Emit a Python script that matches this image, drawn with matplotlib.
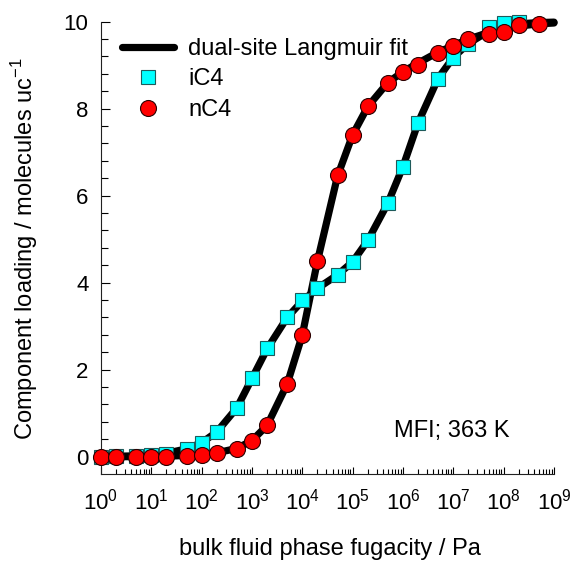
import math

import matplotlib
matplotlib.use('Agg')
import matplotlib.pyplot as plt
from matplotlib.lines import Line2D
from matplotlib.ticker import FuncFormatter, LogLocator, MultipleLocator, NullFormatter

plt.rcParams['font.family'] = ['Liberation Sans', 'DejaVu Sans']
plt.rcParams['mathtext.fontset'] = 'custom'
plt.rcParams['mathtext.rm'] = 'Liberation Sans'

# CBMC loadings in MFI at 363 K, fugacity in Pa, loading in molecules/uc
ic4_f = [1, 2, 5, 10, 20, 50, 100, 200, 500, 1e3, 2e3, 5e3, 1e4, 2e4, 5e4, 1e5,
         2e5, 5e5, 1e6, 2e6, 5e6, 1e7, 2e7, 5e7, 1e8, 2e8]
ic4_q = [0.0, 0.01, 0.02, 0.04, 0.07, 0.17, 0.31, 0.56, 1.11, 1.82, 2.49, 3.22, 3.60, 3.87,
         4.18, 4.48, 4.97, 5.83, 6.67, 7.68, 8.68, 9.16, 9.48, 9.88, 9.98, 10.0]

nc4_f = [1, 2, 5, 10, 20, 50, 100, 200, 500, 1e3, 2e3, 5e3, 1e4, 2e4, 5e4, 1e5,
         2e5, 5e5, 1e6, 2e6, 5e6, 1e7, 2e7, 5e7, 1e8, 2e8, 5e8]
nc4_q = [0.0, 0.0, 0.0, 0.0, 0.0, 0.02, 0.04, 0.08, 0.18, 0.37, 0.73, 1.67, 2.80, 4.50,
         6.48, 7.40, 8.06, 8.58, 8.84, 9.01, 9.29, 9.43, 9.60, 9.72, 9.77, 9.92, 9.95]

# dual-site Langmuir fit curves
fit_ic4_f = ic4_f + [5e8, 1e9]
fit_ic4_q = [0.0, 0.01, 0.02, 0.04, 0.08, 0.18, 0.32, 0.57, 1.12, 1.80, 2.48, 3.20, 3.58, 3.87,
             4.18, 4.48, 4.97, 5.83, 6.67, 7.68, 8.70, 9.18, 9.50, 9.78, 9.89, 9.95, 9.98, 9.99]
fit_nc4_f = nc4_f + [1e9]
fit_nc4_q = [0.0, 0.0, 0.0, 0.01, 0.01, 0.03, 0.05, 0.09, 0.19, 0.37, 0.72, 1.67, 2.80, 4.50,
             6.45, 7.40, 8.05, 8.60, 8.85, 9.05, 9.30, 9.45, 9.60, 9.75, 9.83, 9.90, 9.95, 9.97]

fig = plt.figure(figsize=(5.75, 5.65), dpi=100)
ax = fig.add_axes([101 / 575, 91 / 565, 453 / 575, 452.3 / 565])

lw = 5.2
sq_style = dict(ls='none', marker='s', ms=9.6, mfc='#00ffff', mec='#1f5a5a', mew=0.8)
ci_style = dict(ls='none', marker='o', ms=11.5, mfc='#ff0000', mec='#2a0000', mew=0.8)

ax.plot(fit_nc4_f, fit_nc4_q, color='black', lw=lw, solid_capstyle='round', zorder=2, clip_on=False)
ax.plot(fit_ic4_f, fit_ic4_q, color='black', lw=lw, solid_capstyle='round', zorder=2, clip_on=False)
ax.plot(ic4_f, ic4_q, zorder=3, clip_on=False, **sq_style)
ax.plot(nc4_f, nc4_q, zorder=4, clip_on=False, **ci_style)

ax.set_xscale('log')
ax.set_xlim(1, 1e9)
ax.set_ylim(-0.398, 10)

ax.xaxis.set_major_locator(LogLocator(base=10, numticks=20))
ax.xaxis.set_minor_locator(LogLocator(base=10, subs=range(2, 10), numticks=20))
ax.xaxis.set_minor_formatter(NullFormatter())
ax.xaxis.set_major_formatter(FuncFormatter(lambda v, p: r'$\mathregular{10^{%d}}$' % round(math.log10(v))))
ax.yaxis.set_major_locator(MultipleLocator(2))
ax.yaxis.set_minor_locator(MultipleLocator(0.4))

ax.tick_params(axis='x', which='major', direction='in', length=5.4, width=0.8, pad=10.5, labelsize=16)
ax.tick_params(axis='x', which='minor', direction='in', length=3.6, width=0.8)
ax.tick_params(axis='y', which='major', direction='in', length=6.7, width=0.8, pad=9, labelsize=16)
ax.tick_params(axis='y', which='minor', direction='in', length=5.3, width=0.8)

for side in ('top', 'right'):
    ax.spines[side].set_visible(False)
for side in ('left', 'bottom'):
    ax.spines[side].set_linewidth(0.8)
    ax.spines[side].set_color('#222222')

ax.set_xlabel('bulk fluid phase fugacity / Pa', fontsize=17, va='center')
ax.xaxis.set_label_coords(0.5055, -0.166)
ax.set_ylabel(r'Component loading / molecules uc$^{\mathregular{-1}}$', fontsize=17, va='center')
ax.yaxis.set_label_coords(-0.168, 0.4986)

ax.text(0.647, 0.0818, 'MFI; 363 K', transform=ax.transAxes, fontsize=17, ha='left', va='baseline')

handles = [
    Line2D([], [], color='black', lw=lw, solid_capstyle='round'),
    Line2D([], [], **sq_style),
    Line2D([], [], **ci_style),
]
ax.legend(handles, ['dual-site Langmuir fit', 'iC4', 'nC4'], loc='upper left',
          bbox_to_anchor=(0.046, 0.964), frameon=False, fontsize=17, borderpad=0,
          borderaxespad=0, handlelength=2.2, handletextpad=0.6, labelspacing=0.36)

fig.savefig('out.png', dpi=100)
